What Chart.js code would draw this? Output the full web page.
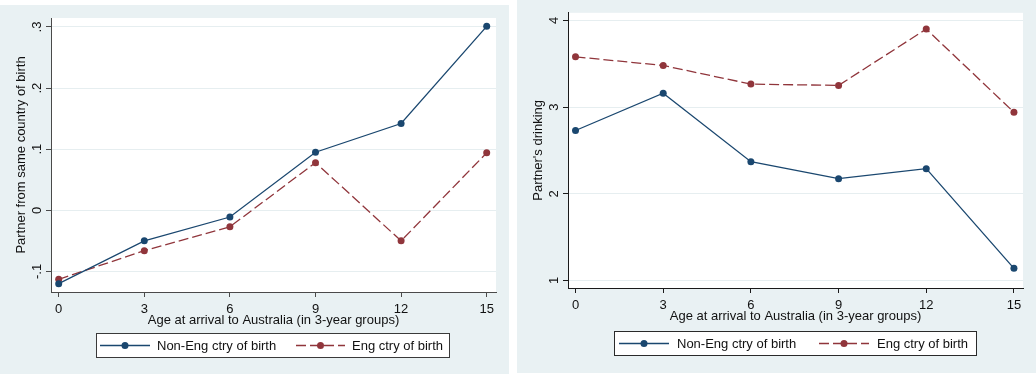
<!DOCTYPE html>
<html>
<head>
<meta charset="utf-8">
<script src="https://cdn.jsdelivr.net/npm/chart.js@4/dist/chart.umd.min.js"></script>
<style>
  html, body { margin: 0; padding: 0; background: #ffffff; }
  body { width: 1036px; height: 376px; position: relative; overflow: hidden; }
  .panel { position: absolute; }
  #leftPanel { left: 0; top: 5px; width: 509px; height: 369px; }
  #rightPanel { left: 517px; top: 0; width: 519px; height: 373px; }
</style>
</head>
<body>
<div class="panel" id="leftPanel"><canvas id="sameCountryChart"></canvas></div>
<div class="panel" id="rightPanel"><canvas id="drinkingChart"></canvas></div>
<script>
// Age at arrival groups (x) and their axis ticks
const ages = [0, 3, 6, 9, 12, 15];
const ageTicks = [0, 3, 6, 9, 12, 15];
const seriesLabels = ['Non-Eng ctry of birth', 'Eng ctry of birth'];

// Partner from same country of birth
const sameCountryNonEng = [-0.120, -0.050, -0.011, 0.095, 0.142, 0.301];
const sameCountryEng = [-0.113, -0.066, -0.027, 0.078, -0.050, 0.094];
const sameCountryTicks = [-0.1, 0, 0.1, 0.2, 0.3];
const sameCountryTickLabels = ['-.1', '0', '.1', '.2', '.3'];

// Partner's drinking
const drinkingNonEng = [2.73, 3.16, 2.37, 2.175, 2.29, 1.14];
const drinkingEng = [3.58, 3.48, 3.265, 3.25, 3.90, 2.94];
const drinkingTicks = [1, 2, 3, 4];
const drinkingTickLabels = ['1', '2', '3', '4'];

const FONT = '"Liberation Sans", Arial, Helvetica, sans-serif';
const NAVY = '#1a476f';
const MAROON = '#90353b';
const PANEL_BG = '#e9f1f3';
const GRID = '#e6eef0';
const TEXT = '#111111';

Chart.defaults.font.family = FONT;
Chart.defaults.font.size = 13;
Chart.defaults.color = TEXT;

// Panel background with a white plot region
const panelBackground = {
  id: 'panelBackground',
  beforeDraw(chart) {
    const { ctx, chartArea } = chart;
    ctx.save();
    ctx.fillStyle = PANEL_BG;
    ctx.fillRect(0, 0, chart.width, chart.height);
    ctx.fillStyle = '#ffffff';
    ctx.fillRect(chartArea.left, chartArea.top, chartArea.right - chartArea.left, chartArea.bottom - chartArea.top);
    ctx.restore();
  }
};

// Boxed legend: line sample with a marker in the middle, then the label
const boxedLegend = {
  id: 'boxedLegend',
  afterDraw(chart, args, opts) {
    const ctx = chart.ctx;
    const { x, y, w, h, items, borderColor } = opts;
    ctx.save();
    ctx.fillStyle = '#ffffff';
    ctx.fillRect(x, y, w, h);
    ctx.strokeStyle = borderColor;
    ctx.lineWidth = 1;
    ctx.strokeRect(Math.round(x) + 0.5, Math.round(y) + 0.5, Math.round(w) - 1, Math.round(h) - 1);
    const cy = y + h / 2;
    chart.data.datasets.forEach((ds, i) => {
      const it = items[i];
      ctx.strokeStyle = ds.borderColor;
      ctx.lineWidth = ds.borderWidth;
      ctx.setLineDash(ds.borderDash || []);
      ctx.beginPath();
      ctx.moveTo(it.x0, cy);
      ctx.lineTo(it.x1, cy);
      ctx.stroke();
      ctx.setLineDash([]);
      ctx.fillStyle = ds.pointBackgroundColor;
      ctx.beginPath();
      ctx.arc((it.x0 + it.x1) / 2, cy, ds.pointRadius, 0, Math.PI * 2);
      ctx.fill();
      ctx.fillStyle = TEXT;
      ctx.font = '13px ' + FONT;
      ctx.textAlign = 'left';
      ctx.textBaseline = 'middle';
      ctx.fillText(ds.label, it.textX, cy + 0.5);
    });
    ctx.restore();
  }
};

function series(label, values, color, dash) {
  return {
    label: label,
    data: ages.map((a, i) => ({ x: a, y: values[i] })),
    borderColor: color,
    backgroundColor: color,
    pointBackgroundColor: color,
    pointBorderWidth: 0,
    pointRadius: 3.5,
    borderWidth: 1.3,
    borderDash: dash,
    tension: 0,
    fill: false,
    clip: false
  };
}

function buildChart(canvasId, cfg) {
  return new Chart(document.getElementById(canvasId), {
    type: 'line',
    data: {
      datasets: [
        series(seriesLabels[0], cfg.nonEng, NAVY, []),
        series(seriesLabels[1], cfg.eng, MAROON, [10, 4])
      ]
    },
    options: {
      responsive: true,
      maintainAspectRatio: false,
      devicePixelRatio: 1,
      animation: false,
      layout: { padding: cfg.padding },
      plugins: {
        legend: { display: false },
        tooltip: { enabled: false },
        boxedLegend: cfg.legend
      },
      scales: {
        x: {
          type: 'linear',
          min: cfg.xMin,
          max: cfg.xMax,
          afterBuildTicks: s => { s.ticks = ageTicks.map(v => ({ value: v })); },
          afterFit: s => { s.height = 36; },
          ticks: { autoSkip: false, padding: cfg.xTickPad, color: TEXT, callback: v => String(v) },
          grid: { drawOnChartArea: false, drawTicks: true, tickLength: 5, tickColor: cfg.axisColor },
          border: { display: true, color: cfg.axisColor, width: 1 },
          title: { display: true, text: 'Age at arrival to Australia (in 3-year groups)', color: TEXT, padding: { top: 0, bottom: 0 }, font: { size: 13 } }
        },
        y: {
          type: 'linear',
          min: cfg.yMin,
          max: cfg.yMax,
          afterBuildTicks: s => { s.ticks = cfg.yTicks.map(v => ({ value: v })); },
          afterFit: s => { s.width = 51; },
          ticks: {
            autoSkip: false, minRotation: 90, maxRotation: 90, crossAlign: 'center',
            padding: cfg.yTickPad, color: TEXT,
            callback: (v, i) => cfg.yLabels[i]
          },
          grid: { drawOnChartArea: true, color: GRID, lineWidth: 1, drawTicks: true, tickLength: 5, tickColor: cfg.axisColor },
          border: { display: true, color: cfg.axisColor, width: 1 },
          title: { display: true, text: cfg.yTitle, color: TEXT, padding: { top: 14, bottom: 0 }, font: { size: 13 } }
        }
      }
    },
    plugins: [panelBackground, boxedLegend]
  });
}

buildChart('sameCountryChart', {
  nonEng: sameCountryNonEng,
  eng: sameCountryEng,
  yTicks: sameCountryTicks,
  yLabels: sameCountryTickLabels,
  yMin: -0.1337, yMax: 0.3147,
  xMin: -0.27, xMax: 15.326,
  yTitle: 'Partner from same country of birth',
  yTickPad: 1,
  xTickPad: 4.5,
  axisColor: '#4a4a4a',
  padding: { left: 0, top: 13, right: 13, bottom: 46 },
  legend: {
    x: 96, y: 328, w: 354, h: 25, borderColor: '#3a3a3a',
    items: [ { x0: 100, x1: 150, textX: 157 }, { x0: 296, x1: 345, textX: 352 } ]
  }
});

buildChart('drinkingChart', {
  nonEng: drinkingNonEng,
  eng: drinkingEng,
  yTicks: drinkingTicks,
  yLabels: drinkingTickLabels,
  yMin: 0.9136, yMax: 4.0875,
  xMin: -0.257, xMax: 15.31,
  yTitle: "Partner's drinking",
  yTickPad: 5,
  xTickPad: 4.5,
  axisColor: '#1a1a1a',
  padding: { left: 0, top: 9, right: 13, bottom: 49 },
  legend: {
    x: 97, y: 331, w: 363, h: 25, borderColor: '#2a2a2a',
    items: [ { x0: 102, x1: 152, textX: 160 }, { x0: 302, x1: 352, textX: 360 } ]
  }
});
</script>
</body>
</html>
